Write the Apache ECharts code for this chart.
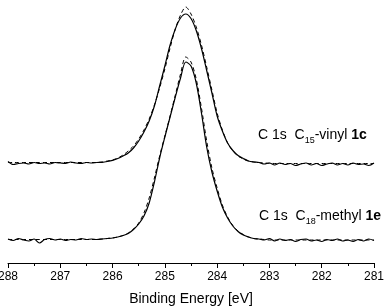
<!DOCTYPE html>
<html>
<head>
<meta charset="utf-8">
<script src="https://cdn.jsdelivr.net/npm/echarts@6/dist/echarts.min.js"></script>
<style>
  html, body { margin: 0; padding: 0; background: #fff; }
  #chart { width: 392px; height: 306px; }
</style>
</head>
<body>
<div id="chart"></div>
<script>
// binding energy grid (eV), 288 -> 281
var energy = [
  288.0, 287.9, 287.8, 287.7, 287.6, 287.5, 287.4, 287.3, 287.2, 287.1,
  287.0, 286.9, 286.8, 286.7, 286.6, 286.5, 286.4, 286.3, 286.2, 286.1,
  286.0, 285.9, 285.8, 285.7, 285.6, 285.5, 285.4, 285.3, 285.2, 285.1,
  285.0, 284.9, 284.8, 284.7, 284.6, 284.5, 284.4, 284.3, 284.2, 284.1,
  284.0, 283.9, 283.8, 283.7, 283.6, 283.5, 283.4, 283.3, 283.2, 283.1,
  283.0, 282.9, 282.8, 282.7, 282.6, 282.5, 282.4, 282.3, 282.2, 282.1,
  282.0, 281.9, 281.8, 281.7, 281.6, 281.5, 281.4, 281.3, 281.2, 281.1,
  281.0
]

// C15-vinyl 1c (offset upward), measured + fit
var vinylData = [
  103.5, 100.5, 101.5, 102, 101, 102.5, 101.5, 102, 101, 102.5,
  102, 101.5, 103, 102, 101.5, 102.5, 102, 102.5, 102.7, 103.5,
  104.7, 106.5, 109, 112, 117, 124, 133, 144, 159, 179,
  199, 220, 236, 247, 251, 246.5, 234.5, 216.5, 194.5, 172,
  149, 134, 122, 114.5, 109.5, 106.5, 104, 103, 102.5, 101,
  102, 100, 102, 100.5, 101.5, 99.5, 101, 102, 100, 101.5,
  99.5, 101, 102, 100, 101.5, 100, 102, 100.5, 101, 99.5,
  102
]
var vinylFit = [
  102.5, 102.5, 102.5, 102.5, 102.5, 102.5, 102.5, 102.5, 102.5, 102.5,
  102.5, 102.5, 102.5, 102.5, 102.5, 102.5, 102.5, 102.5, 103, 104,
  105, 107, 110, 114, 119, 126, 135, 146, 160, 177,
  196, 217, 236, 250, 258, 251, 238, 220, 198, 175,
  152, 135, 122, 114, 109, 106, 104, 103, 102.5, 102,
  101.8, 101.5, 101.5, 101.5, 101.5, 101.5, 101.5, 101.5, 101.5, 101.5,
  101.5, 101.5, 101.5, 101.5, 101.5, 101.5, 101.5, 101.5, 101.5, 101.5,
  101.5
]

// C18-methyl 1e, measured + fit
var methylData = [
  26, 24.5, 26.5, 25, 24, 26, 22, 25.5, 26.5, 25,
  26, 24.5, 25.5, 25, 26.5, 25.5, 26, 25.5, 26, 26.5,
  27, 28, 29.5, 31.5, 35.5, 41, 49, 62, 83, 107,
  128, 148, 168, 187, 203, 199, 182, 152, 118, 93,
  74, 58, 47, 39, 33.5, 30, 28, 26.5, 26, 25,
  26.5, 24, 26, 24.5, 25.5, 23.5, 25.5, 26, 24, 25,
  23.5, 25.5, 24.5, 26, 24, 25, 23.5, 25.5, 24, 26,
  24.5
]
var methylFit = [
  25.5, 25.5, 25.5, 25.5, 25.5, 25.5, 25.5, 25.5, 25.5, 25.5,
  25.5, 25.5, 25.5, 25.5, 25.5, 25.5, 25.5, 25.5, 26, 26.5,
  27, 28, 29.5, 32, 36, 42, 52, 67, 87, 109,
  129, 149, 170, 191, 208, 203, 186, 157, 124, 97,
  77, 60, 48, 39.5, 34, 30.5, 28, 26.5, 26, 25.5,
  25, 25, 25, 25, 25, 25, 25, 25, 25, 25,
  25, 25, 25, 25, 25, 25, 25, 25, 25, 25,
  25
]

function pairs(ys) {
  var out = []
  for (var i = 0; i < energy.length; i++) {
    out.push([energy[i], ys[i]])
  }
  return out
}

var chart = echarts.init(document.getElementById('chart'))

var subStyle = {
  rich: {
    m: { fontSize: 14, lineHeight: 14, verticalAlign: 'top', color: '#000', fontFamily: 'Liberation Sans' },
    s: { fontSize: 9, lineHeight: 9, verticalAlign: 'top', padding: [8, 0, 0, 0], color: '#000', fontFamily: 'Liberation Sans' },
    b: { fontSize: 14, lineHeight: 14, verticalAlign: 'top', fontWeight: 'bold', color: '#000', fontFamily: 'Liberation Sans' }
  }
}

var option = {
  animation: false,
  backgroundColor: '#fff',
  grid: {
    left: 8,
    right: 18,
    top: 0,
    bottom: 43,
    outerBoundsMode: 'none'
  },
  xAxis: {
    type: 'value',
    inverse: true,
    min: 281,
    max: 288,
    interval: 1,
    name: 'Binding Energy [eV]',
    nameLocation: 'middle',
    nameGap: 29,
    nameTextStyle: { fontSize: 14, color: '#000', fontFamily: 'Liberation Sans' },
    axisLine: { onZero: false, lineStyle: { color: '#000', width: 1 } },
    axisTick: { show: true, length: 5, lineStyle: { color: '#000' } },
    minorTick: { show: true, splitNumber: 2, length: 3, lineStyle: { color: '#000' } },
    axisLabel: { fontSize: 12, color: '#000', margin: 8, fontFamily: 'Liberation Sans' },
    splitLine: { show: false }
  },
  yAxis: {
    type: 'value',
    min: 2,
    max: 265,
    show: false,
    splitLine: { show: false }
  },
  series: [
    {
      type: 'line', data: pairs(vinylFit), showSymbol: false, smooth: 0.3,
      lineStyle: { color: '#000', width: 1, type: [4, 3] }
    },
    {
      type: 'line', data: pairs(methylFit), showSymbol: false, smooth: 0.3,
      lineStyle: { color: '#000', width: 1, type: [4, 3] }
    },
    {
      type: 'line', data: pairs(vinylData), showSymbol: false, smooth: 0.3,
      lineStyle: { color: '#000', width: 1.2 }
    },
    {
      type: 'line', data: pairs(methylData), showSymbol: false, smooth: 0.3,
      lineStyle: { color: '#000', width: 1.2 }
    }
  ],
  graphic: [
    {
      type: 'text', left: 258, top: 128,
      style: Object.assign({ text: '{m|C 1s  C}{s|15}{m|-vinyl }{b|1c}' }, subStyle)
    },
    {
      type: 'text', left: 259, top: 209,
      style: Object.assign({ text: '{m|C 1s  C}{s|18}{m|-methyl }{b|1e}' }, subStyle)
    }
  ]
}

chart.setOption(option)
</script>
</body>
</html>
